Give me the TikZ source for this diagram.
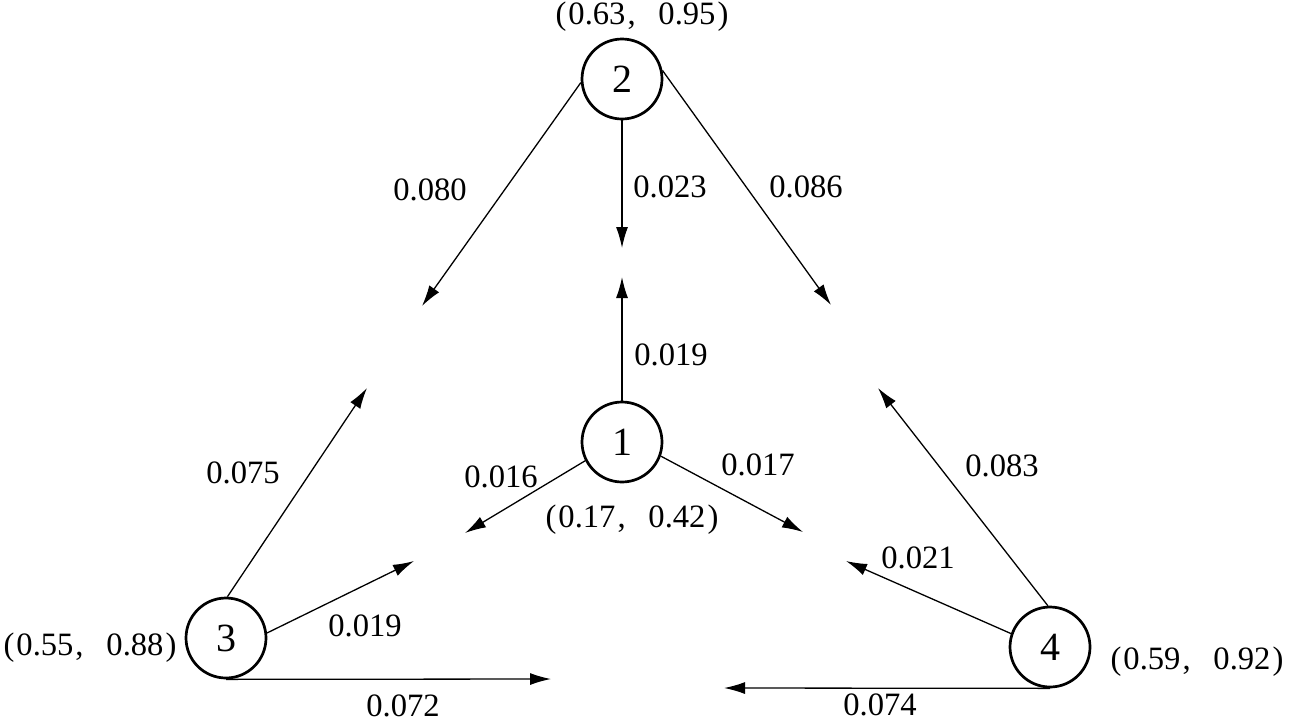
\documentclass[tikz,border=0pt]{standalone}
\usepackage{fontspec}
\setmainfont{Liberation Serif}
\usetikzlibrary{arrows.meta}
\begin{document}
\begin{tikzpicture}[x=0.5pt,y=-0.5pt,
  state/.style={circle,draw,line width=1.35pt,minimum size=40pt,inner sep=0pt,font=\fontsize{20}{24}\selectfont},
  flow/.style={line width=0.65pt,-{Latex[length=10.5pt,width=6pt]}},
  val/.style={font=\fontsize{16.3}{19}\selectfont,inner sep=0pt},
  pairlabel/.style={font=\fontsize{16.3}{19}\selectfont,inner sep=0pt}]
\useasboundingbox (0,0) rectangle (1289,723);
% nodes
\node[state] (n2) at (622,79) {2};
\node[state] (n1) at (622,442) {1};
\node[state] (n3) at (226,638) {3};
\node[state] (n4) at (1050,647) {4};
% free ends
\coordinate (e2a) at (422,306);
\coordinate (e2b) at (622,248);
\coordinate (e2c) at (831,305);
\coordinate (e1a) at (622,277);
\coordinate (e1b) at (465,533);
\coordinate (e1c) at (803,532);
\coordinate (e3a) at (367,388);
\coordinate (e3b) at (414,561);
\coordinate (e3c) at (551,679);
\coordinate (e4a) at (878,388);
\coordinate (e4b) at (846,561);
\coordinate (e4c) at (724,688);
% connectors
\draw[flow] (n2.185) -- (e2a);
\draw[flow] (n2.south) -- (e2b);
\draw[flow] (n2.12) -- (e2c);
\draw[flow] (n1.north) -- (e1a);
\draw[flow] (n1.207) -- (e1b);
\draw[flow] (n1.340) -- (e1c);
\draw[flow] (n3.88) -- (e3a);
\draw[flow] (n3.7) -- (e3b);
\draw[flow] (n3.south) -- (e3c);
\draw[flow] (n4.93) -- (e4a);
\draw[flow] (n4.161) -- (e4b);
\draw[flow] (n4.south) -- (e4c);
% labels
\node[pairlabel] (p2) at (642,17) {(\kern1pt0.63\kern1pt,\hspace{0.7em}0.95\kern1pt)};
\node[pairlabel] (p1) at (632,520) {(\kern1pt0.17\kern1pt,\hspace{0.7em}0.42\kern1pt)};
\node[pairlabel] (p3) at (90,648) {(\kern1pt0.55\kern1pt,\hspace{0.7em}0.88\kern1pt)};
\node[pairlabel] (p4) at (1197,662) {(\kern1pt0.59\kern1pt,\hspace{0.7em}0.92\kern1pt)};
\node[val] (l2a) at (430,190) {0.080};
\node[val] (l2b) at (670,187) {0.023};
\node[val] (l2c) at (806,187) {0.086};
\node[val] (l1a) at (671,355) {0.019};
\node[val] (l1b) at (501,477) {0.016};
\node[val] (l1c) at (758,465) {0.017};
\node[val] (l3a) at (243,473) {0.075};
\node[val] (l3b) at (365,626) {0.019};
\node[val] (l3c) at (403,706) {0.072};
\node[val] (l4a) at (1002,466) {0.083};
\node[val] (l4b) at (918,558) {0.021};
\node[val] (l4c) at (880,705) {0.074};
\end{tikzpicture}
\end{document}
